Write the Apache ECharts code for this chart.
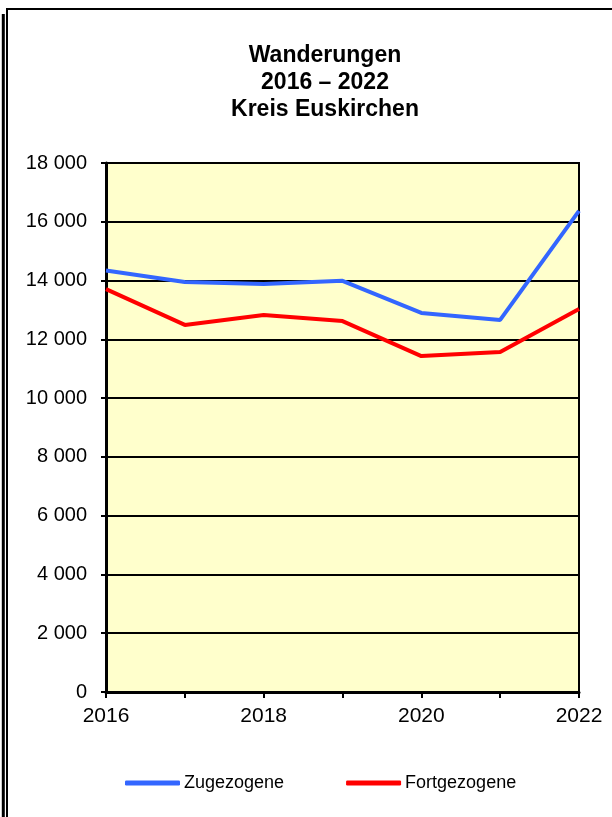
<!DOCTYPE html>
<html>
<head>
<meta charset="utf-8">
<script src="https://cdn.jsdelivr.net/npm/echarts@6/dist/echarts.min.js"></script>
<style>
  html, body { margin: 0; padding: 0; background: #fff; }
  #chart { width: 612px; height: 817px; }
</style>
</head>
<body>
<div id="chart"></div>
<script>
// Jahre und Wanderungen (Personen)
var years = ['2016', '2017', '2018', '2019', '2020', '2021', '2022'];
var zugezogene = [14340, 13950, 13880, 13990, 12900, 12660, 16370];
var fortgezogene = [13710, 12490, 12830, 12620, 11430, 11570, 13030];
var seriesNames = ['Zugezogene', 'Fortgezogene'];
var titleText = 'Wanderungen\n2016 – 2022\nKreis Euskirchen';

var font = 'Arial, "Liberation Sans", sans-serif';

function fmt(v) {
    return String(v).replace(/\B(?=(\d{3})+(?!\d))/g, ' ');
}

var myChart = echarts.init(document.getElementById('chart'));
var option = {
    animation: false,
    backgroundColor: '#ffffff',
    title: {
        text: titleText,
        left: 320,
        top: 37,
        textAlign: 'center',
        textStyle: {
            fontFamily: font,
            fontSize: 23,
            fontWeight: 'bold',
            lineHeight: 27,
            color: '#000'
        }
    },
    graphic: [
        {
            type: 'rect',
            shape: { x: 7, y: 9, width: 700, height: 900 },
            style: { fill: 'none', stroke: '#000', lineWidth: 2 }
        },
        {
            type: 'line',
            shape: { x1: 3.3, y1: 14, x2: 3.3, y2: 817 },
            style: { stroke: '#000', lineWidth: 3 }
        }
    ],
    legend: {
        data: seriesNames,
        left: 125,
        top: 774,
        padding: 0,
        icon: 'roundRect',
        itemWidth: 55,
        itemHeight: 5,
        itemGap: 62,
        textStyle: { fontFamily: font, fontSize: 18, color: '#000', padding: [0, 0, 0, -1] }
    },
    grid: {
        left: 106,
        right: 33,
        top: 163,
        bottom: 125,
        show: true,
        backgroundColor: '#ffffcc',
        borderColor: '#000',
        borderWidth: 2
    },
    xAxis: {
        type: 'category',
        data: years,
        boundaryGap: false,
        axisLine: { lineStyle: { color: '#000', width: 3 } },
        axisTick: { show: true, interval: 0, length: 6, lineStyle: { color: '#000', width: 2 } },
        axisLabel: {
            interval: 1,
            margin: 14,
            fontFamily: font,
            fontSize: 21,
            color: '#000'
        },
        splitLine: { show: false }
    },
    yAxis: {
        type: 'value',
        min: 0,
        max: 18000,
        interval: 2000,
        axisLine: { show: true, lineStyle: { color: '#000', width: 3 } },
        axisTick: { show: true, length: 5, lineStyle: { color: '#000', width: 2 } },
        axisLabel: {
            margin: 19,
            fontFamily: font,
            fontSize: 20,
            color: '#000',
            formatter: fmt
        },
        splitLine: { lineStyle: { color: '#000', width: 2 } }
    },
    series: [
        {
            name: seriesNames[0],
            type: 'line',
            data: zugezogene,
            symbol: 'none',
            color: '#3366ff',
            lineStyle: { width: 4, color: '#3366ff' }
        },
        {
            name: seriesNames[1],
            type: 'line',
            data: fortgezogene,
            symbol: 'none',
            color: '#ff0000',
            lineStyle: { width: 4, color: '#ff0000' }
        }
    ]
};
myChart.setOption(option);
</script>
</body>
</html>
